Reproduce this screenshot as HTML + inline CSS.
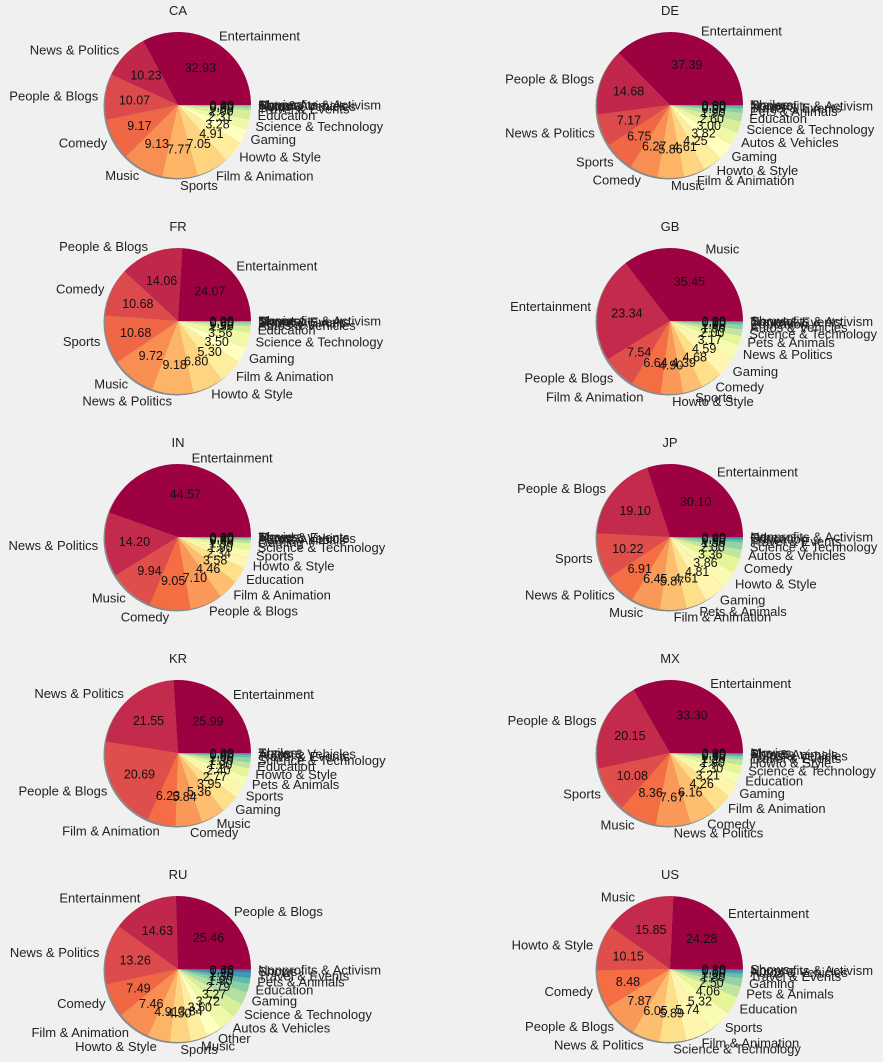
<!DOCTYPE html>
<html><head><meta charset="utf-8">
<style>
body{margin:0;background:#f0f0f0;}
svg{display:block;font-family:"Liberation Sans",sans-serif;}
</style></head>
<body>
<svg id="chart" width="883" height="1062" viewBox="0 0 883 1062"></svg>
<script>
const countries = ["CA","DE","FR","GB","IN","JP","KR","MX","RU","US"];
const caCats = ["Entertainment","News & Politics","People & Blogs","Comedy","Music","Sports","Film & Animation","Howto & Style","Gaming","Science & Technology","Education","Travel & Events","Autos & Vehicles","Pets & Animals","Nonprofits & Activism","Shows","Movies"];
const caVals = [32.92,10.23,10.07,9.17,9.13,7.77,7.05,4.91,3.28,2.31,2.0,0.6,0.4,0.1,0.03,0.0,0.0];
const deCats = ["Entertainment","People & Blogs","News & Politics","Sports","Comedy","Music","Film & Animation","Howto & Style","Gaming","Autos & Vehicles","Science & Technology","Education","Pets & Animals","Travel & Events","Nonprofits & Activism","Shows","Trailers"];
const deVals = [37.39,14.68,7.17,6.75,6.27,5.86,4.61,4.25,3.82,3.0,2.6,1.9,0.9,0.5,0.3,0.0,0.0];
const frCats = ["Entertainment","People & Blogs","Comedy","Sports","Music","News & Politics","Howto & Style","Film & Animation","Gaming","Science & Technology","Education","Autos & Vehicles","Pets & Animals","Travel & Events","Nonprofits & Activism","Shows","Movies"];
const frVals = [24.07,14.06,10.68,10.68,9.72,9.18,6.80,5.30,3.5,3.56,1.3,0.6,0.3,0.2,0.05,0.0,0.0];
const gbCats = ["Music","Entertainment","People & Blogs","Film & Animation","Howto & Style","Sports","Comedy","Gaming","News & Politics","Pets & Animals","Science & Technology","Autos & Vehicles","Education","Travel & Events","Nonprofits & Activism","Shows"];
const gbVals = [35.45,23.34,7.54,6.64,4.90,4.39,4.68,4.59,3.17,2.0,1.5,1.0,0.5,0.2,0.1,0.0];
const inCats = ["Entertainment","News & Politics","Music","Comedy","People & Blogs","Film & Animation","Education","Howto & Style","Sports","Science & Technology","Gaming","Pets & Animals","Autos & Vehicles","Travel & Events","Shows","Movies"];
const inVals = [44.55,14.19,9.94,9.05,7.10,4.46,3.58,2.34,1.9,1.5,0.6,0.4,0.2,0.1,0.05,0.0];
const jpCats = ["Entertainment","People & Blogs","Sports","News & Politics","Music","Film & Animation","Pets & Animals","Gaming","Howto & Style","Comedy","Autos & Vehicles","Science & Technology","Travel & Events","Education","Other","Nonprofits & Activism"];
const jpVals = [30.10,19.10,10.22,6.91,6.45,5.87,4.61,4.81,3.86,3.36,2.0,1.5,0.6,0.4,0.2,0.0];
const krCats = ["Entertainment","News & Politics","People & Blogs","Film & Animation","Comedy","Music","Gaming","Sports","Pets & Animals","Howto & Style","Education","Science & Technology","Travel & Events","Autos & Vehicles","Shows","Trailers"];
const krVals = [25.99,21.55,20.69,6.23,5.84,5.36,3.95,2.77,2.4,1.9,1.3,1.0,0.6,0.4,0.02,0.0];
const mxCats = ["Entertainment","People & Blogs","Sports","Music","News & Politics","Comedy","Film & Animation","Gaming","Education","Science & Technology","Howto & Style","Travel & Events","Autos & Vehicles","Pets & Animals","Shows","Movies"];
const mxVals = [33.29,20.14,10.08,8.36,7.67,6.16,4.26,3.21,2.3,1.9,1.2,0.6,0.4,0.3,0.1,0.0];
const ruCats = ["People & Blogs","Entertainment","News & Politics","Comedy","Film & Animation","Howto & Style","Sports","Music","Other","Autos & Vehicles","Science & Technology","Gaming","Education","Pets & Animals","Travel & Events","Shows","Nonprofits & Activism"];
const ruVals = [25.45,14.62,13.25,7.49,7.46,4.91,4.50,3.84,3.5,3.72,3.27,2.79,1.9,1.3,1.2,0.46,0.3];
const usCats = ["Entertainment","Music","Howto & Style","Comedy","People & Blogs","News & Politics","Science & Technology","Film & Animation","Sports","Education","Pets & Animals","Gaming","Travel & Events","Autos & Vehicles","Nonprofits & Activism","Shows"];
const usVals = [24.25,15.83,10.14,8.47,7.86,6.04,5.88,5.73,5.31,4.05,2.5,1.8,1.0,0.6,0.3,0.1];

const allCats=[caCats,deCats,frCats,gbCats,inCats,jpCats,krCats,mxCats,ruCats,usCats];
const allVals=[caVals,deVals,frVals,gbVals,inVals,jpVals,krVals,mxVals,ruVals,usVals];

const spectral=["#9e0142","#d53e4f","#f46d43","#fdae61","#fee08b","#ffffbf","#e6f598","#abdda4","#66c2a5","#3288bd","#5e4fa2"];
function hex2rgb(h){return [1,3,5].map(i=>parseInt(h.substr(i,2),16));}
function cmap(t){const p=t*10,i=Math.min(9,Math.floor(p)),f=p-i;const a=hex2rgb(spectral[i]),b=hex2rgb(spectral[i+1]);
  return "rgb("+a.map((v,k)=>Math.round(v+(b[k]-v)*f)).join(",")+")";}

const svg=document.getElementById("chart");
const NS="http://www.w3.org/2000/svg";
const R=73;
function colX(c){return c===0?178:670;}
function rowY(r){return 105+r*216;}

countries.forEach((name,idx)=>{
  const cx=colX(idx%2), cy=rowY(Math.floor(idx/2));
  const cats=allCats[idx], vals=allVals[idx];
  const total=vals.reduce((a,b)=>a+b,0);
  const g=document.createElementNS(NS,"g");
  
  
  svg.appendChild(g);
  const title=document.createElementNS(NS,"text");
  
  
  title.setAttribute("x",cx);title.setAttribute("y",cy-90);
  title.setAttribute("text-anchor","middle");title.setAttribute("font-size","13");title.setAttribute("fill","#222");
  title.textContent=name;g.appendChild(title);
  const sh=document.createElementNS(NS,"circle");
  
  
  sh.setAttribute("cx",cx-1.5);sh.setAttribute("cy",cy+1.5);sh.setAttribute("r",R);sh.setAttribute("fill","#8a8a8a");
  g.appendChild(sh);
  let a0=0;const n=cats.length;const labels=[];
  vals.forEach((v,i)=>{
    const frac=v/total, a1=a0+frac*2*Math.PI;
    const col=cmap(n>1?i/(n-1):0);
    if(frac>0){
      const x0=cx+R*Math.cos(a0),y0=cy-R*Math.sin(a0),x1=cx+R*Math.cos(a1),y1=cy-R*Math.sin(a1);
      const large=(a1-a0)>Math.PI?1:0;
      const p=document.createElementNS(NS,"path");
      
      
      p.setAttribute("d",`M${cx},${cy} L${x0},${y0} A${R},${R} 0 ${large} 0 ${x1},${y1} Z`);
      p.setAttribute("fill",col);g.appendChild(p);
    }
    const am=(a0+a1)/2;
    labels.push({am,cat:cats[i],pct:(frac*100).toFixed(2)});
    a0=a1;
  });
  labels.forEach(l=>{
    const lx=cx+1.1*R*Math.cos(l.am), ly=cy-1.1*R*Math.sin(l.am);
    const t=document.createElementNS(NS,"text");
    
    
    t.setAttribute("x",lx);t.setAttribute("y",ly+4.5);
    t.setAttribute("text-anchor",Math.cos(l.am)>=0?"start":"end");
    t.setAttribute("font-size","13");t.setAttribute("fill","#222");
    t.textContent=l.cat;g.appendChild(t);
    const px=cx+0.6*R*Math.cos(l.am), py=cy-0.6*R*Math.sin(l.am);
    const u=document.createElementNS(NS,"text");
    
    
    u.setAttribute("x",px);u.setAttribute("y",py+4.5);
    u.setAttribute("text-anchor","middle");u.setAttribute("font-size","12.5");u.setAttribute("fill","#111");
    u.textContent=l.pct;g.appendChild(u);
  });
});
</script>
</body></html>
